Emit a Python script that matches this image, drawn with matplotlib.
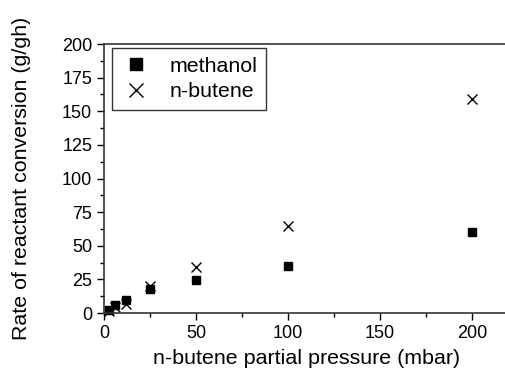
import matplotlib
matplotlib.use("Agg")
from matplotlib import pyplot as plt
from matplotlib.ticker import MultipleLocator

pressure = [2.5, 6, 12, 25, 50, 100, 200]
methanol = [2, 6, 10, 18, 24.5, 35, 60]
butene = [1.5, 4.5, 7, 20, 34, 65, 159]

plt.rcParams['font.family'] = ['Liberation Sans', 'DejaVu Sans']

fig = plt.figure(figsize=(5.06, 3.72), dpi=100)
ax = fig.add_axes([0.2055, 0.1586, 0.80, 0.7231])

ax.plot(pressure, methanol, 's', color='black', markersize=5.8, label='methanol', clip_on=False)
ax.plot(pressure, butene, 'x', color='black', markersize=6.8, markeredgewidth=1.0,
        label='n-butene', clip_on=False)

ax.set_xlim(0, 220)
ax.set_ylim(0, 200)
ax.xaxis.set_major_locator(MultipleLocator(50))
ax.xaxis.set_minor_locator(MultipleLocator(25))
ax.yaxis.set_major_locator(MultipleLocator(25))
ax.yaxis.set_minor_locator(MultipleLocator(12.5))
ax.tick_params(which='major', direction='out', length=5, width=1, labelsize=13)
ax.tick_params(which='minor', direction='out', length=3, width=1)
ax.spines['right'].set_visible(False)
for s in ['left', 'bottom', 'top']:
    ax.spines[s].set_linewidth(1.2)
    ax.spines[s].set_color('#333333')

ax.set_xlabel('n-butene partial pressure (mbar)', fontsize=15.4, labelpad=5)
ax.set_ylabel('Rate of reactant conversion (g/gh)', fontsize=15.4, labelpad=22)

leg = ax.legend(loc='upper left', bbox_to_anchor=(0.02, 0.985), fontsize=15.4,
                frameon=True, fancybox=False, edgecolor='black', handletextpad=0.9,
                borderpad=0.4, labelspacing=0.3, handlelength=1.4, markerscale=1.4,
                borderaxespad=0)
leg.get_frame().set_linewidth(1.0)

fig.savefig('out.png', dpi=100)
